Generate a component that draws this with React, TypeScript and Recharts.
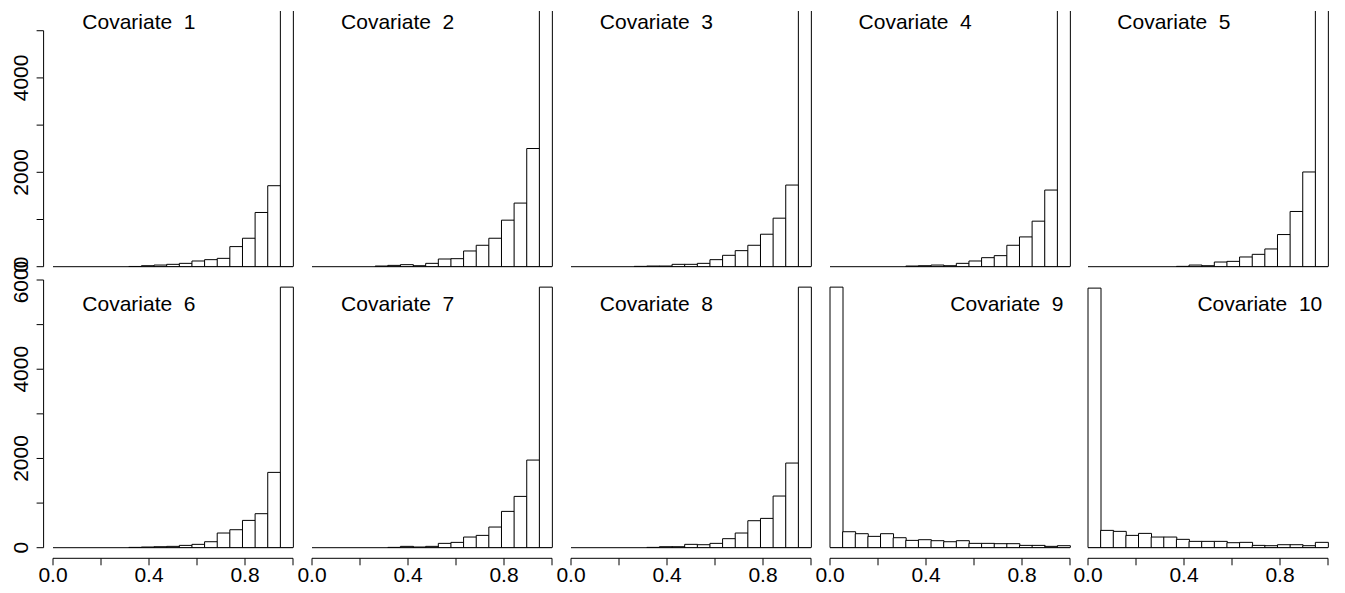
import React from "react";
import { BarChart, Bar, XAxis, YAxis, ReferenceLine } from "recharts";

// hist breaks = seq(0, 1, length = 20) -> 19 bins, lower edges
const binLow = [0, 0.053, 0.105, 0.158, 0.211, 0.263, 0.316, 0.368, 0.421, 0.474, 0.526, 0.579, 0.632, 0.684, 0.737, 0.789, 0.842, 0.895, 0.947];

const cov1 = [0, 0, 0, 0, 0, 0, 5, 21, 35, 50, 71, 121, 149, 177, 426, 603, 1149, 1716, 5840];
const cov2 = [0, 0, 0, 0, 0, 14, 28, 43, 21, 71, 163, 170, 333, 454, 603, 986, 1348, 2504, 5840];
const cov3 = [0, 0, 0, 0, 0, 7, 14, 14, 50, 50, 71, 149, 241, 340, 454, 688, 1028, 1730, 5840];
const cov4 = [0, 0, 0, 0, 0, 0, 14, 21, 35, 21, 71, 121, 191, 234, 454, 631, 965, 1624, 5840];
const cov5 = [0, 0, 0, 0, 0, 0, 0, 7, 35, 21, 99, 113, 206, 262, 376, 681, 1170, 2007, 5840];
const cov6 = [0, 0, 0, 0, 0, 0, 7, 15, 22, 30, 52, 75, 134, 329, 403, 612, 762, 1688, 5840];
const cov7 = [0, 0, 0, 0, 0, 0, 7, 30, 15, 30, 97, 119, 239, 276, 463, 814, 1150, 1964, 5840];
const cov8 = [0, 0, 0, 0, 0, 0, 7, 22, 22, 75, 67, 97, 202, 329, 605, 657, 1158, 1897, 5840];
const cov9 = [5840, 358, 314, 254, 314, 224, 164, 179, 157, 134, 157, 97, 97, 90, 90, 52, 52, 30, 45];
const cov10 = [5818, 388, 366, 276, 321, 239, 239, 187, 142, 142, 142, 112, 120, 52, 45, 67, 67, 45, 120];

const series = [cov1, cov2, cov3, cov4, cov5, cov6, cov7, cov8, cov9, cov10];
const titles = ["Covariate  1", "Covariate  2", "Covariate  3", "Covariate  4", "Covariate  5",
  "Covariate  6", "Covariate  7", "Covariate  8", "Covariate  9", "Covariate  10"];
const rightTitles = [8, 9]; // panels whose title sits top-right

const xTicks = [0, 0.2, 0.4, 0.6, 0.8, 1];
const xTickLabels = [0, 0.4, 0.8];
const yTicksTop = [0, 1000, 2000, 3000, 4000, 5000];
const yLabelsTop = [0, 2000, 4000];
const yTicksBottom = [0, 1000, 2000, 3000, 4000, 5000, 6000];
const yLabelsBottom = [0, 2000, 4000, 6000];

const FONT = '"Liberation Sans", Arial, Helvetica, sans-serif';
const FS = 21;
const COL_LEFT = [53.3, 312.05, 570.8, 829.55, 1088.3];
const PLOT_W = 240;
const PAD = 2;

const ROWS = [
  { chartTop: 0, chartH: 285, plotTop: 10.9, baseline: 266.7, yMax: 5420, yTicks: yTicksTop, yLabels: yLabelsTop, titleY: 29.3 },
  { chartTop: 250, chartH: 343, plotTop: 280, baseline: 547.7, yMax: 6000, yTicks: yTicksBottom, yLabels: yLabelsBottom, titleY: 311 },
];

function YTick(props: any) {
  const { y, payload, axisX, step, top, labels } = props;
  const v = payload.value;
  const bx = axisX - 15.7;
  return (
    <g>
      <line x1={axisX - 7} x2={axisX} y1={y} y2={y} stroke="#000" strokeWidth={1} />
      {v < top && <line x1={axisX} x2={axisX} y1={y} y2={y - step} stroke="#000" strokeWidth={1} />}
      {labels.includes(v) && (
        <text x={bx} y={y} transform={`rotate(-90 ${bx} ${y})`} textAnchor="middle"
          fontSize={FS} fontFamily={FONT} fill="#000">{v}</text>
      )}
    </g>
  );
}

function XTick(props: any) {
  const { x, payload, axisY, step } = props;
  const v = payload.value;
  return (
    <g>
      <line x1={x} x2={x} y1={axisY} y2={axisY + 7} stroke="#000" strokeWidth={1} />
      {v < 1 && <line x1={x} x2={x + step} y1={axisY} y2={axisY} stroke="#000" strokeWidth={1} />}
      {xTickLabels.includes(v) && (
        <text x={x} y={axisY + 23.4} textAnchor="middle" fontSize={FS} fontFamily={FONT} fill="#000">
          {v.toFixed(1)}
        </text>
      )}
    </g>
  );
}

function Panel({ idx }: { idx: number }) {
  const row = Math.floor(idx / 5);
  const col = idx % 5;
  const g = ROWS[row];
  const L = col === 0 ? 54 : 24;
  const R = 4;
  const chartLeft = COL_LEFT[col] - PAD - L;
  const width = L + PLOT_W + 2 * PAD + R;
  const below = g.chartTop + g.chartH - g.baseline;
  const margin = {
    top: g.plotTop - g.chartTop,
    right: R,
    left: col === 0 ? 0 : L,
    bottom: row === 1 ? 0 : below,
  };
  const step = ((g.baseline - g.plotTop) / g.yMax) * 1000;
  const axisX = L + PAD - 9.4;
  const axisY = g.baseline - g.chartTop + 10.6;
  const data = binLow.map((lo, i) => ({ bin: String(i), lo, n: series[idx][i] }));
  const top = g.yTicks[g.yTicks.length - 1];

  return (
    <div style={{ position: "absolute", left: chartLeft, top: g.chartTop }}>
      <BarChart width={width} height={g.chartH} data={data} margin={margin} barCategoryGap={0} barGap={0}>
        <XAxis xAxisId="bin" dataKey="bin" hide padding={{ left: PAD, right: PAD }} />
        <XAxis
          xAxisId="num"
          dataKey="lo"
          type="number"
          domain={[0, 1]}
          allowDataOverflow
          ticks={xTicks}
          interval={0}
          hide={row === 0}
          height={row === 1 ? below : 0}
          padding={{ left: PAD, right: PAD }}
          axisLine={false}
          tickLine={false}
          tick={(p: any) => <XTick {...p} axisY={axisY} step={0.2 * PLOT_W} />}
        />
        <YAxis
          domain={[0, g.yMax]}
          allowDataOverflow
          ticks={g.yTicks}
          interval={0}
          hide={col !== 0}
          width={col === 0 ? L : 0}
          axisLine={false}
          tickLine={false}
          tick={(p: any) => <YTick {...p} axisX={axisX} step={step} top={top} labels={g.yLabels} />}
        />
        <Bar xAxisId="bin" dataKey="n" fill="#fff" stroke="#000" strokeWidth={1} isAnimationActive={false} />
        <ReferenceLine xAxisId="num" segment={[{ x: 0, y: 0 }, { x: 1, y: 0 }]} stroke="#000" strokeWidth={1} />
      </BarChart>
    </div>
  );
}

export default function App() {
  return (
    <div style={{ position: "absolute", left: 0, top: 0, width: 1345, height: 593, background: "#fff", overflow: "hidden" }}>
      {series.map((_, i) => (
        <Panel key={i} idx={i} />
      ))}
      <svg width={1345} height={593} style={{ position: "absolute", left: 0, top: 0, pointerEvents: "none" }}>
        {titles.map((t, i) => {
          const row = Math.floor(i / 5);
          const col = i % 5;
          const right = rightTitles.includes(i);
          return (
            <text
              key={t}
              x={right ? COL_LEFT[col] + PLOT_W - 6 : COL_LEFT[col] + 29}
              y={ROWS[row].titleY}
              textAnchor={right ? "end" : "start"}
              fontSize={FS}
              fontFamily={FONT}
              fill="#000"
              style={{ whiteSpace: "pre" }}
            >
              {t}
            </text>
          );
        })}
      </svg>
    </div>
  );
}
